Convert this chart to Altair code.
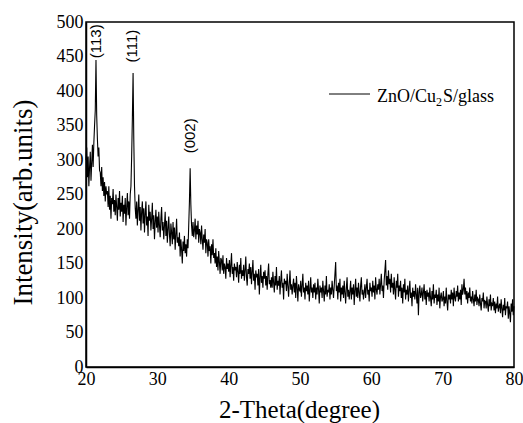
import altair as alt
import pandas as pd

# ---- data (2-theta from 20.0 in steps of 0.1 degree) ----
theta_start = 20.0
theta_step = 0.1
intensity = [
    300, 318, 275, 305, 262, 290, 312, 270, 296, 322,   # 20
    290, 325, 350, 372, 445, 365, 330, 305, 318, 285,   # 21
    282, 262, 290, 255, 275, 248, 268, 240, 262, 250,   # 22
    255, 232, 262, 228, 248, 215, 245, 236, 258, 225,   # 23
    242, 220, 250, 232, 212, 245, 228, 255, 218, 238,   # 24
    225, 248, 210, 235, 222, 245, 205, 232, 252, 220,   # 25
    240, 215, 250, 262, 305, 360, 426, 330, 262, 230,   # 26
    215, 240, 205, 228, 250, 212, 232, 198, 225, 240,   # 27
    208, 230, 195, 222, 240, 205, 218, 190, 235, 212,   # 28
    225, 198, 215, 238, 200, 220, 185, 210, 228, 202,   # 29
    218, 195, 225, 205, 188, 215, 232, 198, 210, 185,   # 30
    205, 225, 190, 212, 180, 200, 218, 192, 175, 208,   # 31
    195, 178, 210, 185, 202, 170, 192, 215, 180, 188,   # 32
    175, 195, 160, 185, 170, 150, 182, 168, 190, 165,   # 33
    178, 160, 185, 172, 205, 240, 288, 235, 205, 190,   # 34
    210, 188, 198, 215, 185, 205, 192, 212, 180, 200,   # 35
    195, 178, 205, 185, 170, 192, 180, 200, 165, 185,   # 36
    180, 160, 185, 168, 175, 150, 178, 162, 185, 158,   # 37
    165, 150, 172, 145, 160, 140, 168, 152, 135, 158,   # 38
    155, 140, 162, 135, 150, 145, 128, 158, 142, 150,   # 39
    138, 155, 130, 148, 165, 135, 145, 125, 150, 140,   # 40
    145, 130, 152, 138, 122, 148, 135, 158, 128, 140,   # 41
    132, 148, 125, 140, 160, 130, 118, 142, 135, 150,   # 42
    128, 145, 120, 138, 155, 125, 135, 112, 140, 130,   # 43
    135, 118, 142, 105, 130, 148, 122, 132, 115, 138,   # 44
    128, 140, 118, 132, 112, 135, 150, 120, 126, 115,   # 45
    130, 115, 138, 122, 108, 132, 118, 145, 112, 125,   # 46
    118, 132, 105, 125, 140, 115, 122, 98, 128, 120,    # 47
    125, 110, 135, 118, 102, 122, 140, 112, 120, 105,   # 48
    118, 128, 108, 122, 100, 132, 115, 95, 120, 112,    # 49
    110, 125, 102, 118, 135, 108, 115, 98, 122, 110,    # 50
    118, 105, 125, 95, 112, 130, 108, 115, 100, 120,    # 51
    108, 122, 98, 115, 105, 128, 112, 92, 118, 108,     # 52
    115, 100, 125, 110, 95, 118, 105, 132, 102, 112,    # 53
    108, 120, 98, 115, 105, 125, 112, 100, 118, 135,    # 54
    152, 110, 118, 98, 122, 108, 128, 95, 115, 105,     # 55
    118, 100, 125, 108, 92, 115, 130, 102, 112, 98,     # 56
    110, 125, 98, 115, 105, 120, 90, 112, 128, 102,     # 57
    115, 100, 122, 108, 95, 118, 130, 105, 112, 98,     # 58
    108, 120, 100, 115, 128, 105, 112, 95, 122, 110,    # 59
    115, 102, 125, 108, 118, 98, 130, 112, 105, 120,    # 60
    112, 128, 105, 120, 135, 110, 118, 100, 125, 140,   # 61
    155, 118, 132, 112, 140, 120, 128, 108, 135, 115,   # 62
    122, 105, 130, 112, 98, 125, 115, 135, 102, 118,    # 63
    110, 125, 100, 115, 92, 120, 108, 128, 98, 112,     # 64
    105, 118, 95, 112, 125, 100, 108, 88, 115, 102,     # 65
    110, 98, 120, 105, 92, 115, 75, 108, 118, 100,      # 66
    105, 115, 95, 108, 120, 98, 110, 90, 112, 102,      # 67
    108, 95, 115, 100, 88, 110, 98, 120, 92, 105,       # 68
    100, 112, 90, 105, 95, 115, 85, 102, 108, 95,       # 69
    98, 110, 88, 102, 92, 115, 95, 82, 105, 98,         # 70
    105, 92, 112, 98, 108, 88, 115, 100, 95, 110,       # 71
    102, 118, 95, 108, 98, 112, 90, 120, 105, 112,      # 72
    128, 105, 115, 98, 110, 92, 108, 100, 115, 95,      # 73
    102, 92, 110, 98, 88, 105, 95, 112, 90, 100,        # 74
    98, 88, 105, 92, 82, 100, 95, 108, 85, 96,          # 75
    95, 85, 102, 90, 80, 98, 88, 105, 82, 92,           # 76
    90, 100, 82, 95, 78, 92, 85, 102, 80, 88,           # 77
    92, 78, 98, 85, 72, 90, 82, 100, 75, 88,            # 78
    85, 95, 70, 88, 78, 65, 92, 80, 98, 75,             # 79
    88,                                                 # 80
]

peak_labels = ["(113)", "(111)", "(002)"]
peak_theta = [21.45, 26.5, 34.6]
peak_label_y = [472, 465, 335]

x_ticks = [20, 30, 40, 50, 60, 70, 80]
y_ticks = [0, 50, 100, 150, 200, 250, 300, 350, 400, 450, 500]

series_name = ["ZnO/Cu", "2", "S/glass"]

# ---- build tables ----
theta = [round(theta_start + i * theta_step, 1) for i in range(len(intensity))]
df = pd.DataFrame({"theta": theta, "intensity": intensity})
peaks = pd.DataFrame({"label": peak_labels, "theta": peak_theta, "y": peak_label_y})

SERIF = "Liberation Serif"

x_scale = alt.Scale(domain=[20, 80], nice=False, zero=False)
y_scale = alt.Scale(domain=[0, 500], nice=False)

x_axis = alt.Axis(
    values=x_ticks, ticks=False, grid=False, labelFlush=False, labelOverlap=False,
    labelFont=SERIF, labelFontSize=18, labelPadding=3, labelColor="black",
    domainColor="black", domainWidth=1.5,
    title="2-Theta(degree)", titleFont=SERIF, titleFontSize=25,
    titleFontWeight="normal", titleColor="black",
    titleX=213, titleY=50, titleAlign="center", titleBaseline="alphabetic",
)
y_axis = alt.Axis(
    values=y_ticks, ticks=False, grid=False, labelFlush=False, labelOverlap=False,
    labelFont=SERIF, labelFontSize=18, labelPadding=3, labelColor="black",
    domainColor="black", domainWidth=1.5,
    title="Intensity(arb.units)", titleFont=SERIF, titleFontSize=27,
    titleFontWeight="normal", titleColor="black", titleAngle=270,
    titleX=-55, titleY=180, titleAlign="center", titleBaseline="alphabetic",
)

line = alt.Chart(df).mark_line(color="black", strokeWidth=1.1).encode(
    x=alt.X("theta:Q", scale=x_scale, axis=x_axis),
    y=alt.Y("intensity:Q", scale=y_scale, axis=y_axis),
)

peak_text = alt.Chart(peaks).mark_text(
    angle=270, font="Liberation Sans", fontSize=15, align="center",
    baseline="middle", color="black",
).encode(
    x=alt.X("theta:Q", scale=x_scale, axis=x_axis),
    y=alt.Y("y:Q", scale=y_scale, axis=y_axis),
    text="label:N",
)

one = pd.DataFrame({"k": [0]})
legend_line = alt.Chart(one).mark_rule(color="black", strokeWidth=1).encode(
    x=alt.value(243), x2=alt.value(284), y=alt.value(72)
)
legend_t1 = alt.Chart(one).mark_text(
    font=SERIF, fontSize=18, align="left", baseline="alphabetic", color="black"
).encode(x=alt.value(291), y=alt.value(80), text=alt.value(series_name[0]))
legend_t2 = alt.Chart(one).mark_text(
    font=SERIF, fontSize=12, align="left", baseline="alphabetic", color="black"
).encode(x=alt.value(350), y=alt.value(84), text=alt.value(series_name[1]))
legend_t3 = alt.Chart(one).mark_text(
    font=SERIF, fontSize=18, align="left", baseline="alphabetic", color="black"
).encode(x=alt.value(357), y=alt.value(80), text=alt.value(series_name[2]))

chart = alt.layer(
    line, peak_text, legend_line, legend_t1, legend_t2, legend_t3
).properties(
    width=428, height=345,
    autosize=alt.AutoSizeParams(type="none"),
    padding={"left": 86, "top": 22, "right": 9, "bottom": 56},
    background="white",
).configure_view(
    stroke="black", strokeWidth=1.5
)

chart.save("out.html", embed_options={"renderer": "svg", "actions": False})
